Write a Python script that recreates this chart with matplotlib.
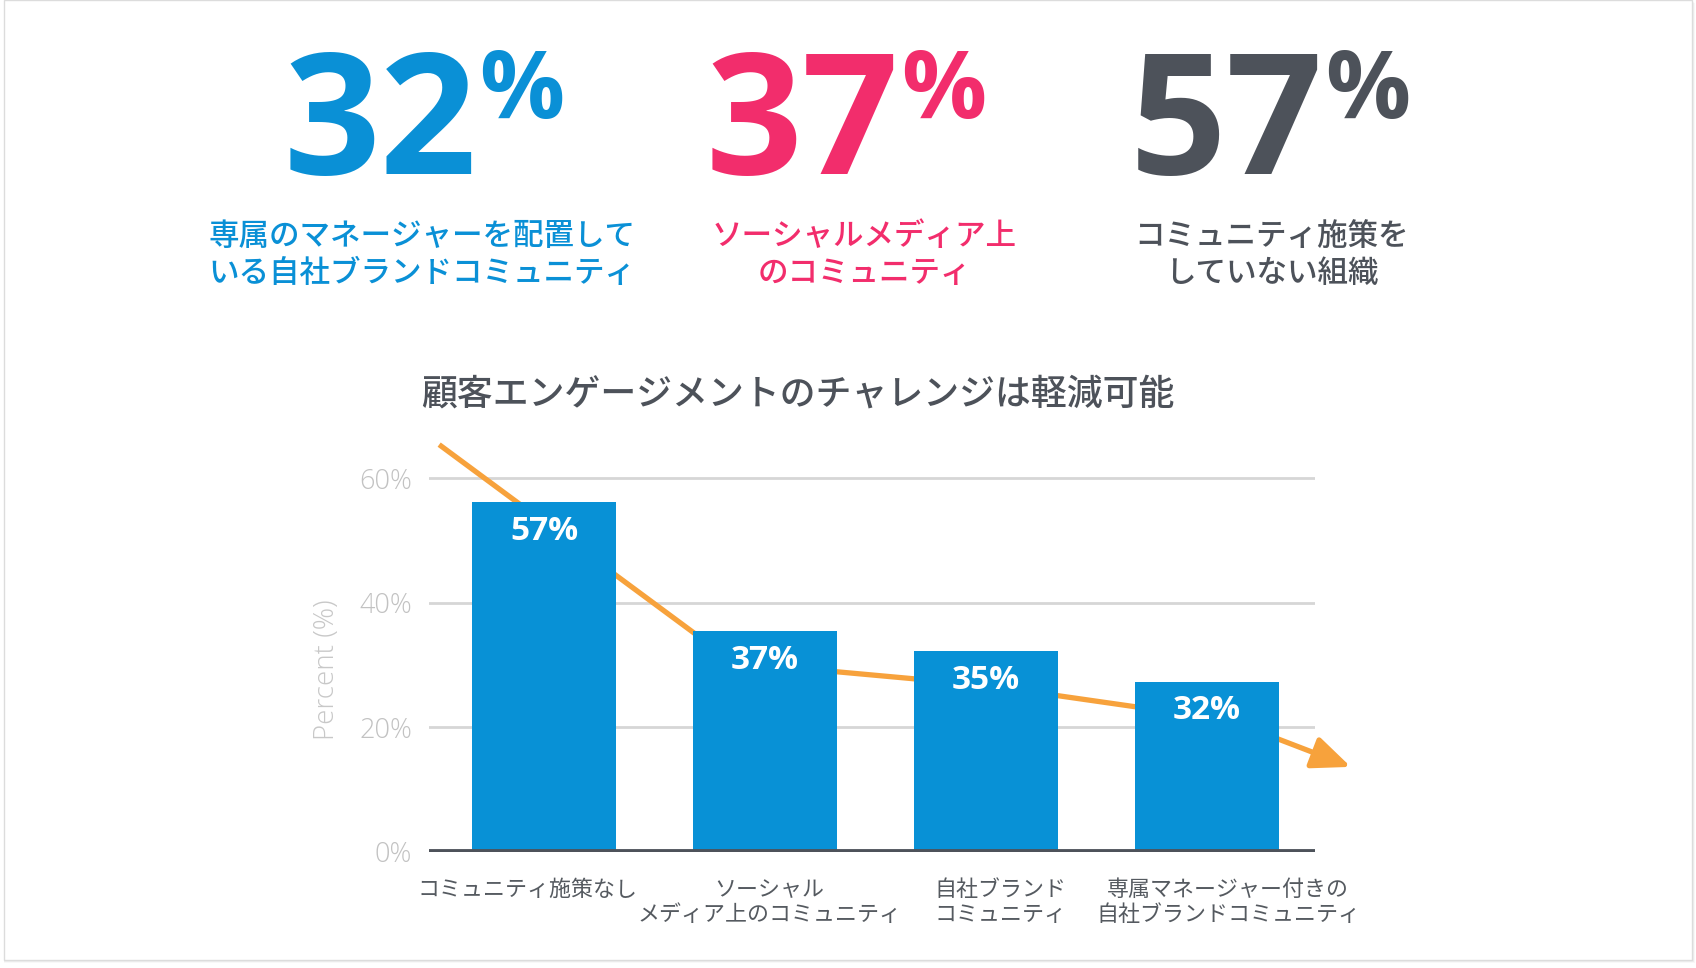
import matplotlib
matplotlib.use("Agg")
import matplotlib.pyplot as plt
from matplotlib.patches import Rectangle

# ---------- data ----------
categories = ['コミュニティ施策なし',
              'ソーシャル\nメディア上のコミュニティ',
              '自社ブランド\nコミュニティ',
              '専属マネージャー付きの\n自社ブランドコミュニティ']
bar_heights = [56.1, 35.4, 32.2, 27.3]
bar_labels = ['57%', '37%', '35%', '32%']
y_ticks = [0, 20, 40, 60]

trend_x = [-0.475, 0.858, 2.0, 3.10, 3.65]
trend_y = [65.4, 30.4, 26.7, 21.1, 13.6]

head_values = ['32', '37', '57']
head_colors = ['#0a90d6', '#f22d6c', '#4d525a']
head_texts = ['専属のマネージャーを配置して\nいる自社ブランドコミュニティ',
              'ソーシャルメディア上\nのコミュニティ',
              'コミュニティ施策を\nしていない組織']

title = '顧客エンゲージメントのチャレンジは軽減可能'

# ---------- style ----------
W, H = 1696, 968
JP = ['Noto Sans CJK JP', 'DejaVu Sans']
LAT = ['Open Sans', 'DejaVu Sans']
BAR = '#0891d6'
ORANGE = '#f7a23c'

def fx(px):
    return px / W

def fy(py):
    return 1 - py / H

fig = plt.figure(figsize=(W / 100, H / 100), dpi=100)
fig.patch.set_facecolor('white')

# card with a soft shadow (behind everything)
for i, a in enumerate([0.05, 0.08, 0.12]):
    fig.patches.append(Rectangle((fx(4), fy(960 + 3 - i)), fx(1692 - 4 + 3 - i), 960 / H,
                                 transform=fig.transFigure, facecolor='#808080',
                                 edgecolor='none', alpha=a, zorder=-3))
fig.patches.append(Rectangle((fx(4), fy(960)), fx(1692 - 4), 960 / H,
                             transform=fig.transFigure, facecolor='white',
                             edgecolor='#dcdcdc', lw=1, zorder=-2))

# ---------- headlines ----------
renderer = fig.canvas.get_renderer()
head_left = [284, 706, 1130]
sub_center = [422, 864, 1272]
for val, col, txt, hx, sx in zip(head_values, head_colors, head_texts, head_left, sub_center):
    t = fig.text(fx(hx), fy(174), val, family=LAT, weight='bold', fontsize=122,
                 color=col, ha='left', va='baseline')
    bb = t.get_window_extent(renderer)
    fig.text(bb.x1 / W + fx(2), fy(118), '%', family=LAT, weight='bold', fontsize=68,
             color=col, ha='left', va='baseline')
    fig.text(fx(sx), fy(255), txt, family=JP, fontsize=22, color=col,
             ha='center', va='center', linespacing=1.25, weight='medium')

# ---------- chart ----------
ax = fig.add_axes([fx(429), fy(851.5), fx(1315 - 429), (851.5 - 416) / H])
ax.patch.set_alpha(0)
x = list(range(len(categories)))

ax.bar(x, bar_heights, width=0.654, color=BAR, zorder=3)
for xi, h, lab in zip(x, bar_heights, bar_labels):
    ax.annotate(lab, (xi, h), xytext=(0, -21), textcoords='offset points',
                ha='center', va='center', color='white', fontsize=24,
                family=LAT, weight='bold', zorder=4)

ax.plot(trend_x[:-1], trend_y[:-1], color=ORANGE, lw=3.8, zorder=2,
        solid_capstyle='butt', clip_on=False)
ax.annotate('', xy=(trend_x[-1], trend_y[-1]), xytext=(trend_x[-2], trend_y[-2]),
            arrowprops=dict(arrowstyle='-|>,head_length=1.3,head_width=0.55',
                            color=ORANGE, lw=3.8, mutation_scale=18,
                            shrinkA=0, shrinkB=0),
            zorder=2, annotation_clip=False)

ax.set_xlim(-0.521, 3.488)
ax.set_ylim(0, 70)
ax.set_yticks(y_ticks)
ax.set_yticklabels([f'{v}%' for v in y_ticks], family=LAT, fontsize=19.5,
                   color='#c2c2c2', weight='light')
ax.set_xticks(x)
ax.set_xticklabels([])
# category labels, nudged a little off the bar centres like the original
for xi, cat, dx in zip(x, categories, [-12, 3, 10, 15]):
    ax.annotate(cat, (xi, 0), xycoords=('data', 'axes fraction'),
                xytext=(dx, -20), textcoords='offset points',
                ha='center', va='top', multialignment='center',
                family=JP, fontsize=15.8, color='#555a60', linespacing=1.15,
                annotation_clip=False)
ax.tick_params(length=0)
ax.tick_params(axis='y', pad=12)
for s in ax.spines.values():
    s.set_visible(False)
for v in y_ticks[1:]:
    ax.axhline(v, color='#d6d6d6', lw=2, zorder=1)
ax.axhline(0, color='#4d525a', lw=4.2, zorder=5)

ax.set_ylabel('Percent (%)', family=LAT, fontsize=20, color='#c8c8c8',
              weight='light')
ax.yaxis.set_label_coords(-0.099, 0.417)

fig.text(fx(421), fy(395), title, family=JP, fontsize=25.8, color='#4d525a',
         ha='left', va='center', weight='medium')

fig.savefig('out.png', dpi=100)
